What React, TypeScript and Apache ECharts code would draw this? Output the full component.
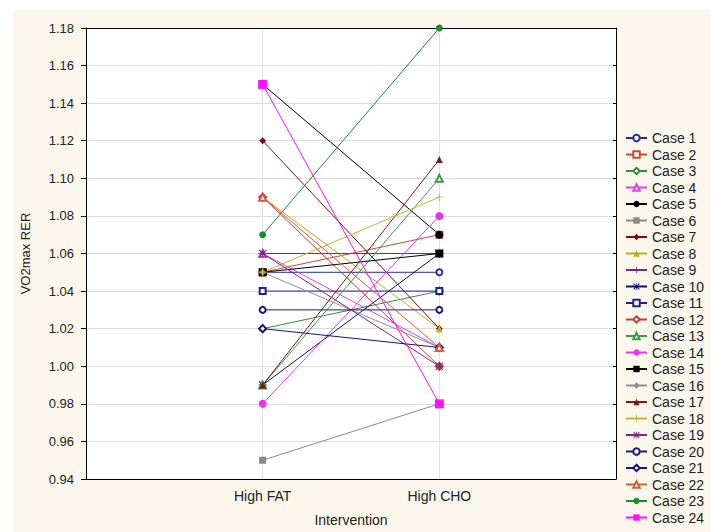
import React, { useEffect, useRef } from "react";
import * as echarts from "echarts";

const caseNames = Array.from({ length: 24 }, (_, i) => `Case ${i + 1}`);
const interventions = ["High FAT", "High CHO"];
const highFat = [1.05, 1.05, 1.02, 1.06, 1.15, 0.95, 1.12, 1.09, 1.06, 0.99, 1.04, 1.09, 0.99, 0.98, 1.05, 1.05, 0.99, 1.05, 1.06, 1.03, 1.02, 1.09, 1.07, 1.15];
const highCho = [1.05, 1.07, 1.04, 1.01, 1.07, 0.98, 1.02, 1.02, 1.06, 1.06, 1.04, 1.00, 1.10, 1.08, 1.06, 1.01, 1.11, 1.09, 1.00, 1.03, 1.01, 1.01, 1.18, 0.98];
const yTicks = [0.94, 0.96, 0.98, 1.0, 1.02, 1.04, 1.06, 1.08, 1.1, 1.12, 1.14, 1.16, 1.18];

const colors = [
  "#2a2aa0", "#c44a3c", "#2f8f3f", "#dd44dd", "#000000",
  "#8a8a8a", "#7a1010", "#b8b020", "#7a2a7a", "#10106e",
  "#202088", "#c83c3c", "#3a9a4a", "#f030f0", "#000000",
  "#909090", "#801818", "#c0b830", "#7a2878", "#1a1a80",
  "#14147a", "#d0603c", "#1e8a2e", "#ff10ff",
];
const PLUS = "path://M0,4.4h10v1.2H0z M4.4,0h1.2v10H4.4z";
const STAR = "path://M0,4.4h10v1.2H0z M4.4,0h1.2v10H4.4z M0,1 L1,0 L10,9 L9,10z M9,0 L10,1 L1,10 L0,9z";
const symbols = [
  "emptyCircle", "emptyRect", "emptyDiamond", "emptyTriangle", "circle",
  "rect", "diamond", "triangle", PLUS, STAR,
  "emptyRect", "emptyDiamond", "emptyTriangle", "circle", "rect",
  "diamond", "triangle", PLUS, STAR, "emptyCircle",
  "emptyDiamond", "emptyTriangle", "circle", "rect",
];
const sizes = [6, 6, 7, 7, 8, 7, 7, 7, 8, 8, 6, 7, 7, 8, 8, 7, 7, 8, 8, 6, 7, 7, 7, 9];

export default function App() {
  const ref = useRef<HTMLDivElement>(null);
  useEffect(() => {
    if (!ref.current) return;
    const chart = echarts.init(ref.current, undefined, { renderer: "svg" });
    const font = "Liberation Sans";
    const series = caseNames.map((name, i) => ({
      type: "line",
      name,
      data: [
        [1, highFat[i]],
        [2, highCho[i]],
      ],
      symbol: symbols[i],
      symbolSize: sizes[i],
      color: colors[i],
      lineStyle: { width: 1, color: colors[i] },
      itemStyle: { color: colors[i], borderWidth: 1 },
      emphasis: { disabled: true },
    }));
    chart.setOption({
      animation: false,
      backgroundColor: "transparent",
      textStyle: { fontFamily: font },
      grid: {
        left: 86,
        top: 28,
        right: 95,
        bottom: 51,
        show: true,
        backgroundColor: "#ffffff",
        borderWidth: 0,
      },
      legend: {
        orient: "vertical",
        left: 625,
        top: 131,
        padding: 0,
        itemWidth: 21,
        itemHeight: 8,
        itemGap: 2.5,
        textStyle: { fontSize: 14, color: "#222", fontFamily: font },
        data: caseNames,
      },
      xAxis: [
        {
          type: "value",
          min: 0,
          max: 3,
          interval: 1,
          name: "Intervention",
          nameLocation: "middle",
          nameGap: 34,
          nameTextStyle: { fontSize: 14, color: "#222", fontFamily: font },
          axisLine: { lineStyle: { color: "#000", width: 1 } },
          axisTick: { show: false },
          axisLabel: {
            fontSize: 14,
            color: "#222",
            margin: 10,
            formatter: (v: number) => (v === 1 ? interventions[0] : v === 2 ? interventions[1] : ""),
          },
          splitLine: { show: true, lineStyle: { color: "#e4e4e4", width: 1 } },
        },
        {
          type: "value",
          position: "top",
          min: 0,
          max: 3,
          interval: 1,
          axisLine: { show: true, onZero: false, lineStyle: { color: "#000", width: 1 } },
          axisTick: { show: false },
          axisLabel: { show: false },
          splitLine: { show: false },
        },
      ],
      yAxis: [
        {
          type: "value",
          min: 0.94,
          max: 1.18,
          interval: 0.02,
          name: "VO2max RER",
          nameLocation: "middle",
          nameGap: 54,
          nameTextStyle: { fontSize: 13, color: "#222", fontFamily: font },
          axisLine: { show: true, lineStyle: { color: "#000", width: 1 } },
          axisTick: { show: true, length: 5, lineStyle: { color: "#000" } },
          axisLabel: {
            fontSize: 13,
            color: "#222",
            margin: 12,
            formatter: (v: number) => v.toFixed(2),
            customValues: yTicks,
          },
          splitLine: { show: true, lineStyle: { color: "#dcdcdc", width: 1 } },
        },
        {
          type: "value",
          position: "right",
          min: 0.94,
          max: 1.18,
          interval: 0.02,
          axisLine: { show: true, onZero: false, lineStyle: { color: "#000", width: 1 } },
          axisTick: { show: true, inside: true, length: 3, lineStyle: { color: "#000" } },
          axisLabel: { show: false },
          splitLine: { show: false },
        },
      ],
      series,
    });
    return () => chart.dispose();
  }, []);
  return (
    <div style={{ position: "absolute", left: 0, top: 0, width: 711, height: 532, background: "#ffffff" }}>
      <div style={{ position: "absolute", left: 13, top: 10, right: 0, bottom: 0, background: "#fbf7ec" }} />
      <div ref={ref} style={{ position: "absolute", left: 0, top: 0, width: 711, height: 532 }} />
    </div>
  );
}
